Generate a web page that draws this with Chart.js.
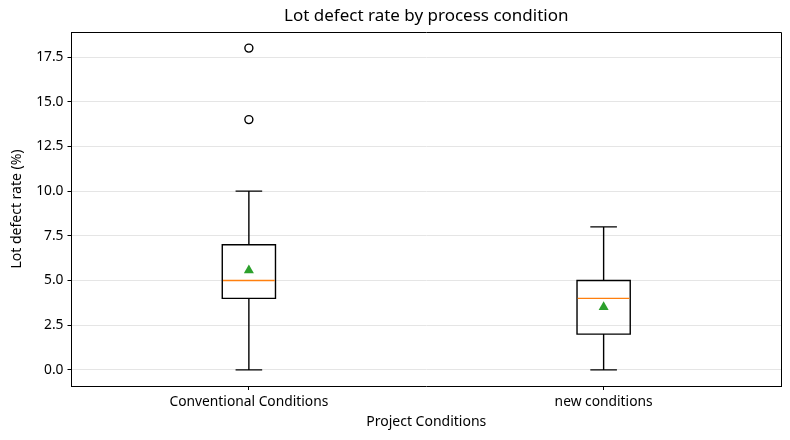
<!DOCTYPE html>
<html>
<head>
<meta charset="utf-8">
<script src="https://cdn.jsdelivr.net/npm/chart.js@4/dist/chart.umd.min.js"></script>
<style>
  html, body { margin: 0; padding: 0; background: #fff; }
  #wrap { width: 790px; height: 440px; }
</style>
</head>
<body>
<div id="wrap"><canvas id="myChart"></canvas></div>
<script>
// box plot numbers
const categories = ['Conventional Conditions', 'new conditions'];
const positions = [1, 2];
const whiskerLow = [0, 0];
const q1 = [4, 2];
const median = [5, 4];
const q3 = [7, 5];
const whiskerHigh = [10, 8];
const means = [5.57, 3.52];
const outliers = [[14, 18], []];
const yTicks = [0, 2.5, 5, 7.5, 10, 12.5, 15, 17.5];

const FONT = "'Noto Sans', 'DejaVu Sans', sans-serif";
const boxWidth = 0.15;

let outlierPoints = [];
for (let i = 0; i < outliers.length; i++) {
  for (let j = 0; j < outliers[i].length; j++) {
    outlierPoints.push({ x: positions[i], y: outliers[i][j] });
  }
}
let meanPoints = [];
for (let i = 0; i < means.length; i++) {
  meanPoints.push({ x: positions[i], y: means[i] });
}

// draws boxes, whiskers, caps and medians from the arrays through the scales
const boxPlugin = {
  id: 'boxes',
  beforeDatasetsDraw(chart) {
    const ctx = chart.ctx;
    const xs = chart.scales.x;
    const ys = chart.scales.y;
    ctx.save();
    ctx.lineWidth = 1.4;
    for (let i = 0; i < positions.length; i++) {
      const cx = xs.getPixelForValue(positions[i]);
      const left = xs.getPixelForValue(positions[i] - boxWidth / 2);
      const right = xs.getPixelForValue(positions[i] + boxWidth / 2);
      const capL = xs.getPixelForValue(positions[i] - boxWidth / 4);
      const capR = xs.getPixelForValue(positions[i] + boxWidth / 4);
      const yLo = ys.getPixelForValue(whiskerLow[i]);
      const yQ1 = ys.getPixelForValue(q1[i]);
      const yMed = ys.getPixelForValue(median[i]);
      const yQ3 = ys.getPixelForValue(q3[i]);
      const yHi = ys.getPixelForValue(whiskerHigh[i]);

      ctx.strokeStyle = '#000';
      ctx.beginPath();
      ctx.rect(left, yQ3, right - left, yQ1 - yQ3);
      ctx.moveTo(cx, yQ1); ctx.lineTo(cx, yLo);
      ctx.moveTo(cx, yQ3); ctx.lineTo(cx, yHi);
      ctx.moveTo(capL, yLo); ctx.lineTo(capR, yLo);
      ctx.moveTo(capL, yHi); ctx.lineTo(capR, yHi);
      ctx.stroke();

      ctx.strokeStyle = '#ff7f0e';
      ctx.beginPath();
      ctx.moveTo(left + 0.7, yMed); ctx.lineTo(right - 0.7, yMed);
      ctx.stroke();
    }
    ctx.restore();
  },
  afterDraw(chart) {
    // top and right spines
    const a = chart.chartArea;
    const ctx = chart.ctx;
    ctx.save();
    ctx.strokeStyle = '#000';
    ctx.lineWidth = 1;
    ctx.beginPath();
    ctx.moveTo(a.left, a.top + 0.5); ctx.lineTo(a.right + 0.5, a.top + 0.5);
    ctx.lineTo(a.right + 0.5, a.bottom);
    ctx.stroke();
    ctx.restore();
  }
};

const ctx = document.getElementById('myChart').getContext('2d');
const myChart = new Chart(ctx, {
  type: 'scatter',
  data: {
    datasets: [{
      label: 'outliers',
      data: outlierPoints,
      pointStyle: 'circle',
      pointRadius: 4,
      backgroundColor: '#ffffff',
      borderColor: '#000000',
      borderWidth: 1.4
    }, {
      label: 'mean',
      data: meanPoints,
      pointStyle: 'triangle',
      pointRadius: 5.8,
      backgroundColor: '#2ca02c',
      borderColor: '#2ca02c',
      borderWidth: 0
    }]
  },
  plugins: [boxPlugin],
  options: {
    responsive: true,
    maintainAspectRatio: false,
    animation: false,
    events: [],
    layout: { padding: { left: 0, right: 9, top: 0, bottom: 0 } },
    plugins: {
      legend: { display: false },
      tooltip: { enabled: false },
      title: {
        display: true,
        text: 'Lot defect rate by process condition',
        fullSize: false,
        color: '#000',
        font: { family: FONT, size: 17, weight: 'normal' },
        padding: { top: 6, bottom: 5.6 }
      }
    },
    scales: {
      x: {
        type: 'linear',
        min: 0.5,
        max: 2.5,
        afterBuildTicks(scale) {
          scale.ticks = positions.map(p => ({ value: p }));
        },
        afterFit(scale) { scale.height = 54; },
        ticks: {
          color: '#000',
          font: { family: FONT, size: 13.8 },
          padding: 4,
          callback: (v) => categories[positions.indexOf(v)]
        },
        grid: {
          drawOnChartArea: false,
          drawTicks: true,
          tickLength: 4,
          tickColor: '#000'
        },
        border: { color: '#000', width: 1 },
        title: {
          display: true,
          text: 'Project Conditions',
          color: '#000',
          font: { family: FONT, size: 14 },
          padding: { top: 2, bottom: 10 }
        }
      },
      y: {
        min: -0.9,
        max: 18.9,
        afterBuildTicks(scale) {
          scale.ticks = yTicks.map(v => ({ value: v }));
        },
        afterFit(scale) { scale.width = 71.5; },
        ticks: {
          color: '#000',
          font: { family: FONT, size: 13.8 },
          padding: 4,
          callback: (v) => v.toFixed(1)
        },
        grid: {
          color: '#e5e5e5',
          lineWidth: 1,
          drawTicks: true,
          tickLength: 4,
          tickColor: '#000'
        },
        border: { color: '#000', width: 1 },
        title: {
          display: true,
          text: 'Lot defect rate (%)',
          color: '#000',
          font: { family: FONT, size: 14 },
          padding: { top: 9, bottom: 4 }
        }
      }
    }
  }
});
</script>
</body>
</html>
